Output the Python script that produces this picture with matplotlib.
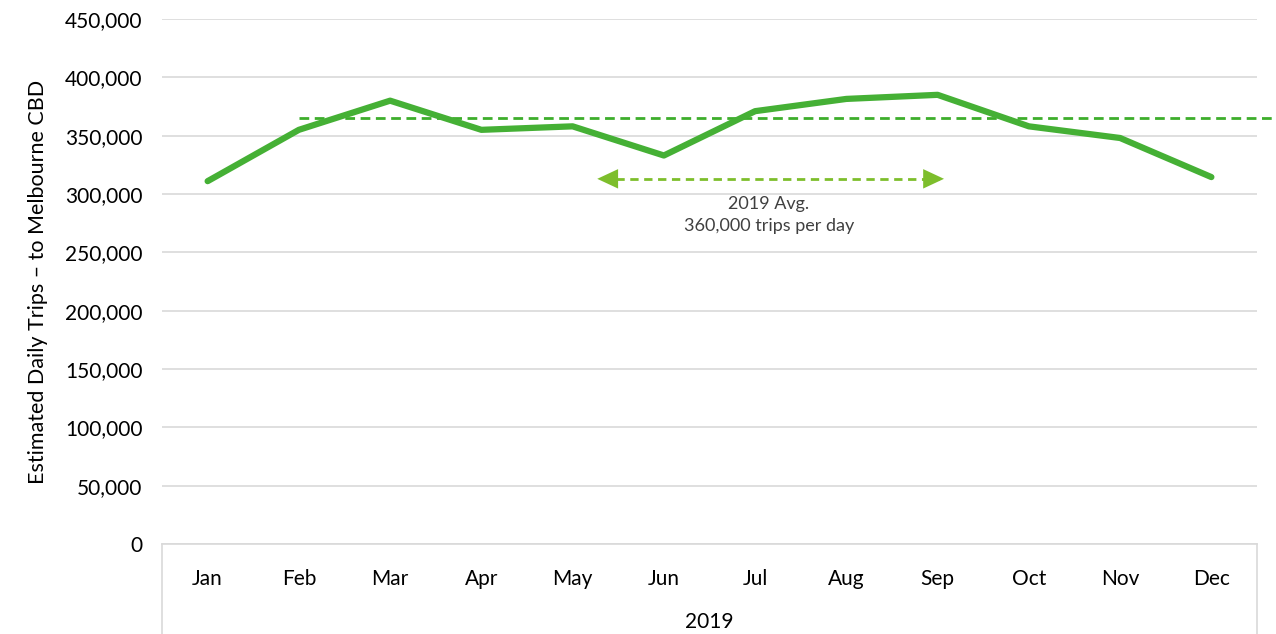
import matplotlib
matplotlib.use("Agg")
import matplotlib.pyplot as plt
import matplotlib.transforms as mtransforms
from matplotlib.ticker import FuncFormatter

months = ['Jan', 'Feb', 'Mar', 'Apr', 'May', 'Jun', 'Jul', 'Aug', 'Sep', 'Oct', 'Nov', 'Dec']
trips = [311000, 355000, 380000, 355000, 358000, 333000, 371000, 381500, 385000, 358000, 348000, 314500]
avg_value = 365000
avg_label = '2019 Avg.\n360,000 trips per day'
year_label = '2019'

plt.rcParams['font.family'] = ['Lato', 'DejaVu Sans']

fig = plt.figure(figsize=(12.76, 6.34), dpi=100)
ax = fig.add_axes([162/1276, 1 - 544/634, (1257-162)/1276, (544-19)/634])

x = list(range(len(months)))
ax.plot(x, trips, color='#45B035', lw=4.5, solid_capstyle='round', solid_joinstyle='round', zorder=3)

# average line, runs off the right edge
ax.plot([1, 11.75], [avg_value, avg_value], color='#3DAE2B', lw=2, ls=(0, (3.5, 2)), clip_on=False, zorder=2)

# double arrow: dashed shaft + two solid heads
arr_l, arr_r, arr_y = 4.27, 8.07, 313000
acol = '#7DBE2C'
ax.plot([arr_l + 0.05, arr_r - 0.05], [arr_y, arr_y], color=acol, lw=2, ls=(0, (3, 2)))
for tip, base in [(arr_l, arr_l + 0.18), (arr_r, arr_r - 0.18)]:
    ax.annotate('', xy=(tip, arr_y), xytext=(base, arr_y),
                arrowprops=dict(arrowstyle='-|>,head_length=0.6,head_width=0.28', color=acol, lw=0,
                                mutation_scale=25, shrinkA=0, shrinkB=0))
ax.text(6.15, 298000, avg_label, ha='center', va='top', fontsize=13, color='#404040', linespacing=1.4)

ax.set_xlim(-0.5, 11.5)
ax.set_ylim(0, 450000)
ax.set_yticks(range(0, 450001, 50000))
ax.yaxis.set_major_formatter(FuncFormatter(lambda v, p: f'{int(v):,}'))
ax.set_xticks(x)
ax.set_xticklabels(months)
ax.grid(axis='y', color='#D9D9D9', lw=1.2)
ax.set_axisbelow(True)
for s in ['top', 'right', 'left']:
    ax.spines[s].set_visible(False)
ax.spines['bottom'].set_color('#D9D9D9')
ax.spines['bottom'].set_linewidth(1.2)
ax.tick_params(axis='both', length=0, labelsize=15, colors='#000000')
ax.tick_params(axis='x', pad=18)
ax.tick_params(axis='y', pad=14)
ax.set_ylabel('Estimated Daily Trips – to Melbourne CBD', fontsize=15.5, labelpad=12)

# multi-level category axis: side bars and year label
trans = mtransforms.blended_transform_factory(ax.transAxes, ax.transAxes)
for xe in [0, 1]:
    ax.plot([xe, xe], [0, -0.2], color='#D9D9D9', lw=1.2, transform=trans, clip_on=False)
ax.text(0.5, -0.148, year_label, transform=ax.transAxes, ha='center', va='center', fontsize=15)

fig.savefig('out.png', dpi=100)
